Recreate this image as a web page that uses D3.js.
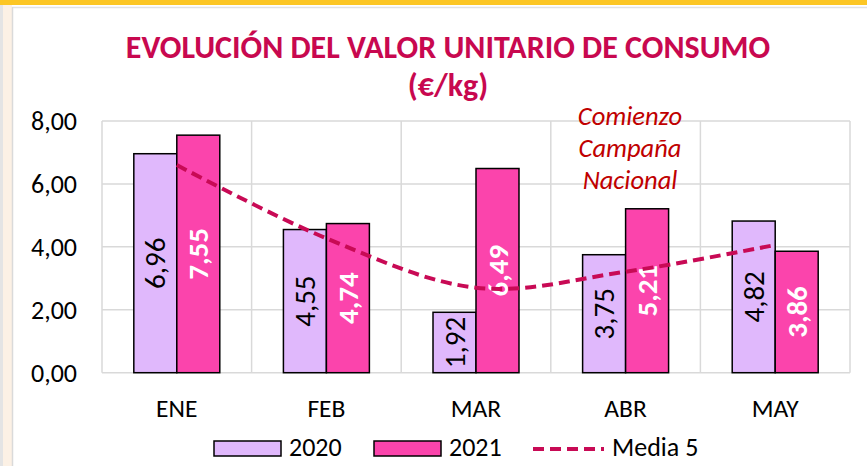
<!DOCTYPE html>
<html lang="es">
<head>
<meta charset="utf-8">
<script src="https://cdn.jsdelivr.net/npm/d3@7"></script>
<style>
  html, body { margin: 0; padding: 0; background: #ffffff; }
  svg { display: block; }
  text { font-family: Carlito, Lato, "Open Sans", sans-serif; }
</style>
</head>
<body>
<svg id="chart" width="867" height="466"></svg>
<script>
// Monthly unit value of consumption (€/kg)
const months = ["ENE", "FEB", "MAR", "ABR", "MAY"];
const seriesNames = ["2020", "2021"];
const values2020 = [6.96, 4.55, 1.92, 3.75, 4.82];
const values2021 = [7.55, 4.74, 6.49, 5.21, 3.86];
const media5 = [6.60, 4.27, 2.70, 3.21, 4.06];
const yTicks = [0, 2, 4, 6, 8];
const titleLines = ["EVOLUCIÓN DEL VALOR UNITARIO DE CONSUMO", "(€/kg)"];
const noteLines = ["Comienzo", "Campaña", "Nacional"];
const mediaName = "Media 5";

const colors = { "2020": "#E0B8FC", "2021": "#FB44AC" };
const lineColor = "#C80A55";
const titleColor = "#C8084F";

const svg = d3.select("#chart");
const W = 867, H = 466;

// page frame: yellow band on top, beige strip on the left
svg.append("rect").attr("x", 0).attr("y", 0).attr("width", W).attr("height", H).attr("fill", "#ffffff");
svg.append("rect").attr("x", 0).attr("y", 0).attr("width", W).attr("height", 5).attr("fill", "#FCC624");
svg.append("rect").attr("x", 0).attr("y", 5).attr("width", 3).attr("height", H - 5).attr("fill", "#E4E4E4");
svg.append("rect").attr("x", 3).attr("y", 5).attr("width", 9).attr("height", H - 5).attr("fill", "#FCF1E5");
svg.append("line").attr("x1", 12).attr("x2", W).attr("y1", 7.5).attr("y2", 7.5).attr("stroke", "#E2E2E2").attr("stroke-width", 1.5);
svg.append("line").attr("x1", 12.5).attr("x2", 12.5).attr("y1", 7).attr("y2", H).attr("stroke", "#DADADA").attr("stroke-width", 1.5);

const plot = { left: 102, right: 850, top: 121, bottom: 372.7 };

const x0 = d3.scaleBand().domain(months).range([plot.left, plot.right]).padding(0);
const x1 = d3.scaleBand().domain(seriesNames).range([0, x0.bandwidth()]).paddingInner(0).paddingOuter(0.74);
const y = d3.scaleLinear().domain([0, 8]).range([plot.bottom, plot.top]);

const locale = d3.formatLocale({ decimal: ",", thousands: ".", grouping: [3], currency: ["", " €"] });
const fmt = locale.format(".2f");

// gridlines
const grid = svg.append("g");
grid.selectAll("line.h").data(yTicks).join("line")
  .attr("x1", plot.left).attr("x2", plot.right)
  .attr("y1", d => y(d)).attr("y2", d => y(d))
  .attr("stroke", "#D9D9D9").attr("stroke-width", 1.5);
const vBounds = months.map(m => x0(m)).concat([plot.right]);
grid.selectAll("line.v").data(vBounds).join("line")
  .attr("x1", d => d).attr("x2", d => d)
  .attr("y1", plot.top).attr("y2", plot.bottom)
  .attr("stroke", "#D9D9D9").attr("stroke-width", 1.5);

// y axis labels
const yAxis = d3.axisLeft(y).tickValues(yTicks).tickFormat(fmt).tickSize(0).tickPadding(0);
const yg = svg.append("g").attr("transform", `translate(77,0)`).call(yAxis);
yg.select(".domain").remove();
yg.selectAll("text").attr("font-size", 26).attr("fill", "#000").attr("dy", "0.34em");

// x axis labels
const xAxis = d3.axisBottom(x0).tickSize(0).tickPadding(0);
const xg = svg.append("g").attr("transform", `translate(0,${plot.bottom})`).call(xAxis);
xg.select(".domain").remove();
xg.selectAll("text").attr("font-size", 25.5).attr("fill", "#000").attr("dy", 0).attr("y", 44);

// bars
const rows = months.map((m, i) => ({ month: m, vals: [
  { key: "2020", v: values2020[i] },
  { key: "2021", v: values2021[i] }
]}));

const groups = svg.append("g").selectAll("g").data(rows).join("g")
  .attr("transform", d => `translate(${x0(d.month)},0)`);
groups.selectAll("rect").data(d => d.vals).join("rect")
  .attr("x", d => x1(d.key))
  .attr("y", d => y(d.v))
  .attr("width", x1.bandwidth())
  .attr("height", d => y(0) - y(d.v))
  .attr("fill", d => colors[d.key])
  .attr("stroke", "#000").attr("stroke-width", 1.5);

// Media 5 smoothed line
const line = d3.line()
  .x((d, i) => x0(months[i]) + x0.bandwidth() / 2)
  .y(d => y(d))
  .curve(d3.curveCardinal.tension(0));
svg.append("path").datum(media5)
  .attr("d", line)
  .attr("fill", "none")
  .attr("stroke", lineColor)
  .attr("stroke-width", 4)
  .attr("stroke-dasharray", "11,6");

// value labels, rotated inside each bar
groups.selectAll("text.val").data(d => d.vals).join("text")
  .attr("class", "val")
  .attr("transform", d => {
    const cx = x1(d.key) + x1.bandwidth() / 2;
    const cy = (y(d.v) + y(0)) / 2;
    return `translate(${cx},${cy}) rotate(-90)`;
  })
  .attr("text-anchor", "middle")
  .attr("dy", "0.35em")
  .attr("font-size", 29)
  .attr("font-weight", d => d.key === "2021" ? "bold" : "normal")
  .attr("fill", d => d.key === "2021" ? "#ffffff" : "#000000")
  .text(d => fmt(d.v));

// annotation
svg.append("g").selectAll("text").data(noteLines).join("text")
  .attr("x", 630).attr("y", (d, i) => 125 + i * 32)
  .attr("text-anchor", "middle")
  .attr("font-size", 26.5).attr("font-style", "italic")
  .attr("fill", "#C00000")
  .text(d => d);

// title
svg.append("g").selectAll("text").data(titleLines).join("text")
  .attr("x", 448).attr("y", (d, i) => 58 + i * 38)
  .attr("text-anchor", "middle")
  .attr("font-size", 32).attr("font-weight", "bold")
  .attr("fill", titleColor)
  .text(d => d);

// legend
const legend = svg.append("g");
const legendItems = [
  { name: seriesNames[0], type: "bar", x: 214 },
  { name: seriesNames[1], type: "bar", x: 374 },
  { name: mediaName, type: "line", x: 533 }
];
legendItems.forEach(it => {
  if (it.type === "bar") {
    legend.append("rect").attr("x", it.x).attr("y", 441).attr("width", 67).attr("height", 15)
      .attr("fill", colors[it.name]).attr("stroke", "#000").attr("stroke-width", 1.5);
    legend.append("text").attr("x", it.x + 75).attr("y", 456).attr("font-size", 26).attr("fill", "#000").text(it.name);
  } else {
    legend.append("line").attr("x1", it.x).attr("x2", it.x + 71).attr("y1", 449).attr("y2", 449)
      .attr("stroke", lineColor).attr("stroke-width", 4).attr("stroke-dasharray", "11,6");
    legend.append("text").attr("x", it.x + 79).attr("y", 456).attr("font-size", 26).attr("fill", "#000").text(it.name);
  }
});
</script>
</body>
</html>
